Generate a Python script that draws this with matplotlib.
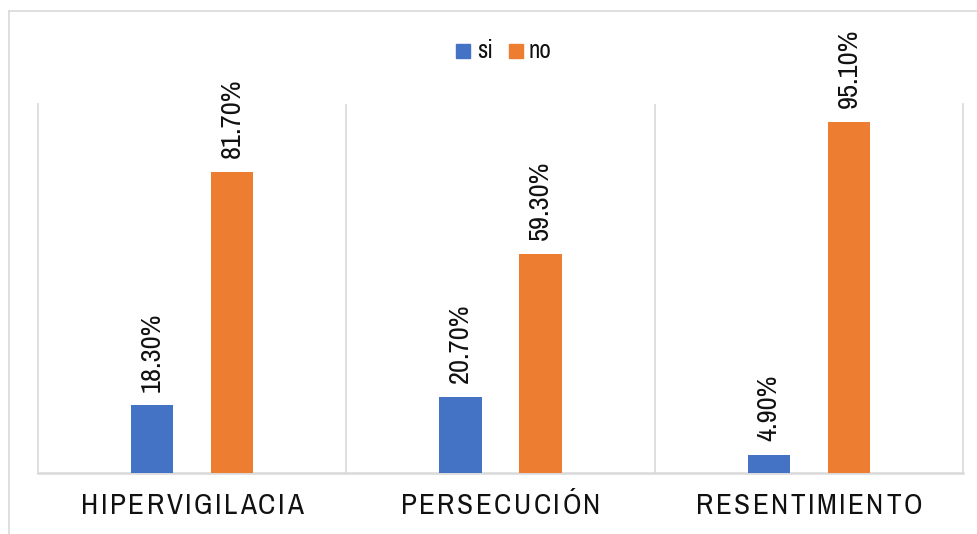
import matplotlib
matplotlib.use("Agg")
import matplotlib.pyplot as plt
import numpy as np
from matplotlib.patches import Rectangle
from matplotlib.lines import Line2D

# data
categories = ["HIPERVIGILACIA", "PERSECUCIÓN", "RESENTIMIENTO"]
si_vals = [18.3, 20.7, 4.9]
no_vals = [81.7, 59.3, 95.1]
series_names = ["si", "no"]

BLUE = "#4472C4"
ORANGE = "#ED7D31"
GRID = "#D9D9D9"
TXT = "#111111"

plt.rcParams["font.family"] = ["Archivo Narrow", "DejaVu Sans"]

W, H = 977, 534
fig = plt.figure(figsize=(W / 100, H / 100), dpi=100)
fig.patch.set_facecolor("white")

# outer chart border (only left/top fall inside the canvas)
fig.add_artist(Line2D([8.5 / W, 8.5 / W], [0, 1 - 11 / H], transform=fig.transFigure,
                      color=GRID, lw=1.2))
fig.add_artist(Line2D([8.5 / W, 1], [1 - 11 / H, 1 - 11 / H], transform=fig.transFigure,
                      color=GRID, lw=1.2))

ax = fig.add_axes([38 / W, 1 - 473 / H, (963 - 38) / W, (473 - 104) / H])
x = np.arange(len(categories))
bw = 0.137
off = 0.13
b1 = ax.bar(x - off, si_vals, bw, color=BLUE, zorder=3)
b2 = ax.bar(x + off, no_vals, bw, color=ORANGE, zorder=3)

ax.set_xlim(-0.5, len(categories) - 0.5)
ax.set_ylim(0, 100)
ax.set_yticks([])
ax.set_xticks([])
ax.spines["top"].set_visible(False)
for s in ["left", "right"]:
    ax.spines[s].set_color(GRID)
    ax.spines[s].set_linewidth(1.2)
ax.spines["bottom"].set_color(GRID)
ax.spines["bottom"].set_linewidth(1.8)
for xv in [0.5, 1.5]:
    ax.axvline(xv, color=GRID, lw=1.2, zorder=1)

# value labels above bars
for bars, vals in [(b1, si_vals), (b2, no_vals)]:
    for rect, v in zip(bars, vals):
        ax.annotate(f"{v:.2f}%", (rect.get_x() + rect.get_width() / 2, v),
                    xytext=(0, 10), textcoords="offset points", rotation=90,
                    ha="center", va="bottom", fontsize=20.5, color=TXT,
                    annotation_clip=False)

# category labels with letter spacing
renderer = fig.canvas.get_renderer()
def spaced_text(xc, yc, s, size=21, spacing=2.5):
    widths = []
    for ch in s:
        t = fig.text(0, 0, ch, fontsize=size)
        widths.append(t.get_window_extent(renderer).width)
        t.remove()
    total = sum(widths) + spacing * (len(s) - 1)
    px = xc - total / 2
    for ch, w in zip(s, widths):
        fig.text(px / W, 1 - yc / H, ch, fontsize=size, color=TXT,
                 ha="left", va="center")
        px += w + spacing

for i, cat in enumerate(categories):
    xc = ax.transData.transform((i, 0))[0]
    spaced_text(xc, 506, cat)

# legend
leg_y = 1 - 51 / H
for xs, xt, col, name in [(456, 477, BLUE, series_names[0]),
                          (509, 529, ORANGE, series_names[1])]:
    fig.add_artist(Rectangle((xs / W, 1 - 58 / H), 14 / W, 14 / H,
                             transform=fig.transFigure, color=col))
    fig.text(xt / W, leg_y, name, fontsize=18, ha="left", va="center", color=TXT)

fig.savefig("out.png", dpi=100)
